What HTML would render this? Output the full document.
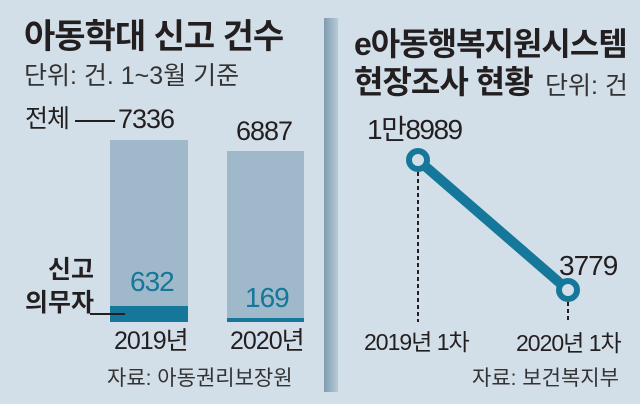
<!DOCTYPE html>
<html><head><meta charset="utf-8"><style>
body{margin:0;width:640px;height:404px;background:#d3dfe8;position:relative;overflow:hidden;font-family:"Liberation Sans","Noto Sans CJK KR",sans-serif;color:#231f20}
.a{position:absolute;white-space:nowrap;line-height:1}
</style></head><body>
<div class="a" style="left:24px;top:20px;font-size:34px;font-weight:bold;letter-spacing:-1px">아동학대 신고 건수</div>
<div class="a" style="left:24px;top:64px;font-size:25px;color:#333">단위: 건. 1~3월 기준</div>
<div class="a" style="left:25px;top:107px;font-size:25px;letter-spacing:-1px">전체</div>
<div class="a" style="left:75px;top:120px;width:40px;height:1.5px;background:#231f20"></div>
<div class="a" style="left:118px;top:106px;font-size:27px;letter-spacing:-1px">7336</div>
<div class="a" style="left:236px;top:118px;font-size:27px;letter-spacing:-1px">6887</div>
<div class="a" style="left:110px;top:140px;width:78px;height:182px;background:#9fb9cb"></div>
<div class="a" style="left:110px;top:306px;width:78px;height:16px;background:#157799"></div>
<div class="a" style="left:227px;top:151px;width:77px;height:171px;background:#9fb9cb"></div>
<div class="a" style="left:227px;top:318px;width:77px;height:4px;background:#157799"></div>
<div class="a" style="left:130px;top:268px;font-size:28px;color:#157799;letter-spacing:-1px">632</div>
<div class="a" style="left:245px;top:284px;font-size:28px;color:#157799;letter-spacing:-1px">169</div>
<div class="a" style="left:48px;top:258px;font-size:25px;font-weight:bold">신고</div>
<div class="a" style="left:25px;top:291px;font-size:25px;font-weight:bold">의무자</div>
<div class="a" style="left:90px;top:313px;width:35px;height:1.5px;background:#231f20"></div>
<div class="a" style="left:114px;top:329px;font-size:25px;letter-spacing:-1px">2019년</div>
<div class="a" style="left:230px;top:329px;font-size:25px;letter-spacing:-1px">2020년</div>
<div class="a" style="left:107px;top:368px;font-size:21px;color:#333">자료: 아동권리보장원</div>

<div class="a" style="left:324px;top:18px;width:14px;height:374px;background:linear-gradient(to right,#7f9cb0,#b7cad7)"></div>

<div class="a" style="left:354px;top:28px;font-size:32px;font-weight:bold;letter-spacing:-1px">e아동행복지원시스템</div>
<div class="a" style="left:354px;top:66px;font-size:32px;font-weight:bold;letter-spacing:-1px">현장조사 현황</div>
<div class="a" style="left:545px;top:74px;font-size:25px;color:#333">단위: 건</div>
<svg class="a" style="left:0;top:0" width="640" height="404">
<line x1="418" y1="172" x2="418" y2="322" stroke="#231f20" stroke-width="2" stroke-dasharray="4,3"/>
<line x1="568" y1="302" x2="568" y2="322" stroke="#231f20" stroke-width="2" stroke-dasharray="4,3"/>
<line x1="418" y1="160" x2="568" y2="290" stroke="#157799" stroke-width="10"/>
<circle cx="418" cy="160" r="9" fill="#d3dfe8" stroke="#157799" stroke-width="6"/>
<circle cx="568" cy="290" r="9" fill="#d3dfe8" stroke="#157799" stroke-width="6"/>
</svg>
<div class="a" style="left:367px;top:116px;font-size:28px;letter-spacing:-1.5px">1만8989</div>
<div class="a" style="left:559px;top:252px;font-size:28px;letter-spacing:-1px">3779</div>
<div class="a" style="left:364px;top:331px;font-size:23px;letter-spacing:-1px">2019년 1차</div>
<div class="a" style="left:516px;top:332px;font-size:23px;letter-spacing:-1px">2020년 1차</div>
<div class="a" style="left:472px;top:368px;font-size:21px;color:#333">자료: 보건복지부</div>
</body></html>
